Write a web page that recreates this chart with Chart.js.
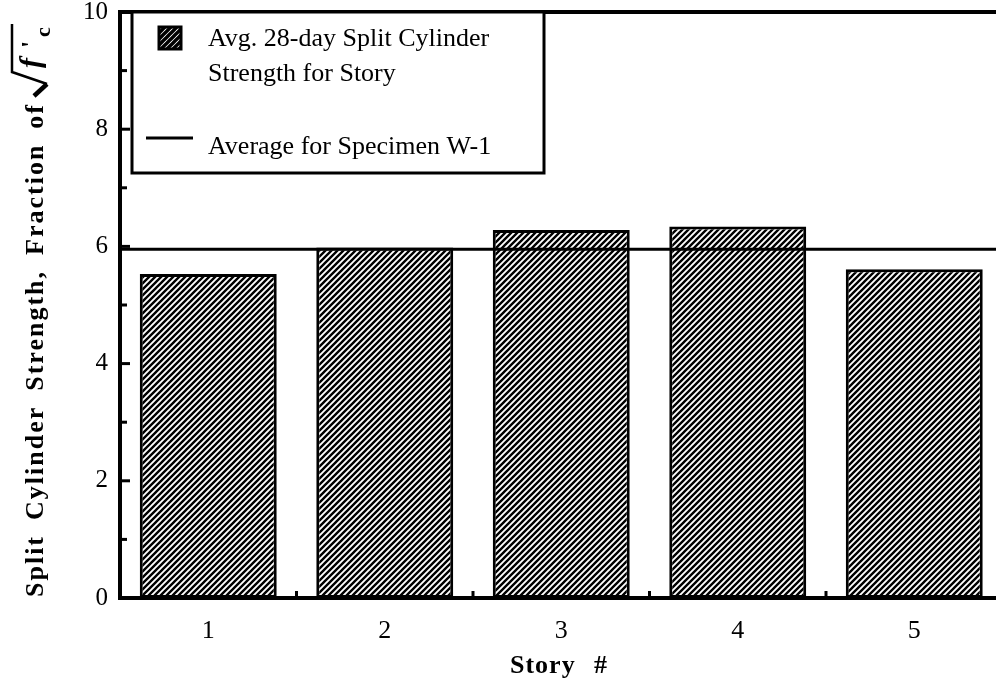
<!DOCTYPE html>
<html>
<head>
<meta charset="utf-8">
<script src="https://cdn.jsdelivr.net/npm/chart.js@4.4.1/dist/chart.umd.min.js"></script>
<style>
  html, body { margin: 0; padding: 0; background: #fff; overflow: hidden; }
  #wrap { position: absolute; left: 0; top: 0; width: 1010px; height: 686px; }
</style>
</head>
<body>
<div id="wrap"><canvas id="chart" width="1010" height="686"></canvas></div>
<script>
// story numbers and avg split cylinder strength (fraction of sqrt f'c)
const stories = ["1", "2", "3", "4", "5"];
const splitStrength = [5.53, 5.98, 6.28, 6.34, 5.61];
const specimenAverage = 5.95;
const yTicks = [0, 2, 4, 6, 8, 10];
const legendLines = ["Avg. 28-day Split Cylinder", "Strength for Story"];
const legendAvgLabel = "Average for Specimen W-1";
const yTitleWords = ["Split", "Cylinder", "Strength,", "Fraction", "of"];

const serif = '"Liberation Serif", "Times New Roman", serif';

const canvas = document.getElementById("chart");
const ctx = canvas.getContext("2d");

function makeHatch(size, width) {
  const tile = document.createElement("canvas");
  tile.width = tile.height = size;
  const g = tile.getContext("2d");
  g.fillStyle = "#fff";
  g.fillRect(0, 0, size, size);
  g.strokeStyle = "#000";
  g.lineWidth = width;
  g.beginPath();
  for (let k = -1; k <= 1; k++) {
    g.moveTo(k * size - 1, size + 1);
    g.lineTo(k * size + size + 1, -1);
  }
  g.stroke();
  return ctx.createPattern(tile, "repeat");
}

const hatch = makeHatch(6, 2.4);
const hatchDense = makeHatch(6, 3.4);

const decor = {
  id: "decor",
  afterDatasetsDraw(chart) {
    const { ctx, chartArea: a, scales: { y } } = chart;
    ctx.save();
    ctx.strokeStyle = "#000";
    ctx.lineWidth = 3;
    const ay = y.getPixelForValue(specimenAverage);
    ctx.beginPath();
    ctx.moveTo(a.left, ay);
    ctx.lineTo(a.right, ay);
    ctx.stroke();
    ctx.restore();
  },
  afterDraw(chart) {
    const { ctx, chartArea: a, scales: { x, y } } = chart;
    ctx.save();
    ctx.strokeStyle = "#000";
    ctx.fillStyle = "#000";

    // top frame line
    ctx.lineWidth = 4;
    ctx.beginPath();
    ctx.moveTo(a.left - 2, a.top);
    ctx.lineTo(a.right, a.top);
    ctx.stroke();

    // inward y ticks (major + minor)
    ctx.lineWidth = 3;
    for (let v = 0; v <= 10; v++) {
      const py = y.getPixelForValue(v);
      const len = yTicks.includes(v) ? 10 : 7;
      ctx.beginPath();
      ctx.moveTo(a.left, py);
      ctx.lineTo(a.left + len, py);
      ctx.stroke();
    }

    // x ticks between categories
    for (let i = 0; i < stories.length - 1; i++) {
      const px = (x.getPixelForValue(i) + x.getPixelForValue(i + 1)) / 2;
      ctx.beginPath();
      ctx.moveTo(px, a.bottom);
      ctx.lineTo(px, a.bottom - 7);
      ctx.stroke();
    }

    // legend box
    ctx.fillStyle = "#fff";
    ctx.fillRect(132, a.top, 412, 161);
    ctx.lineWidth = 3;
    ctx.strokeRect(132, a.top, 412, 161);
    ctx.fillStyle = hatchDense;
    ctx.fillRect(159, 27, 22, 22);
    ctx.lineWidth = 3;
    ctx.strokeRect(159, 27, 22, 22);
    ctx.beginPath();
    ctx.moveTo(146, 138);
    ctx.lineTo(193, 138);
    ctx.stroke();
    ctx.fillStyle = "#000";
    ctx.font = `26px ${serif}`;
    ctx.textBaseline = "alphabetic";
    ctx.textAlign = "left";
    ctx.fillText(legendLines[0], 208, 46);
    ctx.fillText(legendLines[1], 208, 81);
    ctx.fillText(legendAvgLabel, 208, 154);

    // y axis title
    ctx.save();
    ctx.translate(43, 597);
    ctx.rotate(-Math.PI / 2);
    ctx.font = `bold 26px ${serif}`;
    ctx.letterSpacing = "2px";
    let u = 0;
    for (const w of yTitleWords) {
      ctx.fillText(w, u, 0);
      u += ctx.measureText(w).width + 15;
    }
    u -= 10;
    ctx.letterSpacing = "0px";
    // radical sign
    ctx.lineWidth = 4.5;
    ctx.beginPath();
    ctx.moveTo(u + 2, -9);
    ctx.lineTo(u + 14, 4);
    ctx.stroke();
    ctx.lineWidth = 2.5;
    ctx.beginPath();
    ctx.moveTo(u + 14, 4);
    ctx.lineTo(u + 26, -31);
    ctx.lineTo(u + 74, -31);
    ctx.stroke();
    ctx.font = `italic bold 30px ${serif}`;
    ctx.fillText("f", u + 30, -3);
    ctx.font = `bold 26px ${serif}`;
    ctx.fillText("'", u + 50, -4);
    ctx.font = `bold 22px ${serif}`;
    ctx.fillText("c", u + 61, 7);
    ctx.restore();

    // x axis title
    ctx.font = `bold 26px ${serif}`;
    ctx.letterSpacing = "1px";
    ctx.textBaseline = "alphabetic";
    ctx.fillText("Story", 510, 673);
    ctx.fillText("#", 594, 673);
    ctx.restore();
  }
};

new Chart(ctx, {
  type: "bar",
  data: {
    labels: stories,
    datasets: [
      {
        data: splitStrength,
        backgroundColor: hatch,
        borderColor: "#000",
        borderWidth: 3,
        borderSkipped: false,
        barPercentage: 0.776,
        categoryPercentage: 1,
      },
    ],
  },
  options: {
    responsive: false,
    animation: false,
    devicePixelRatio: 1,
    layout: { padding: { top: 12, right: 7.5, left: 0, bottom: 0 } },
    plugins: {
      legend: { display: false },
      tooltip: { enabled: false },
    },
    scales: {
      x: {
        grid: { display: false, drawTicks: false },
        border: { display: true, color: "#000", width: 4 },
        ticks: {
          color: "#000",
          font: { family: serif, size: 26 },
          padding: 18,
        },
        afterFit(scale) {
          scale.height = 88;
          scale.paddingLeft = 0;
          scale.paddingRight = 0;
        },
      },
      y: {
        min: 0,
        max: 10,
        afterBuildTicks(scale) {
          scale.ticks = yTicks.map((v) => ({ value: v }));
        },
        grid: { display: false, drawTicks: false },
        border: { display: true, color: "#000", width: 4 },
        ticks: {
          color: "#000",
          font: { family: serif, size: 25 },
          padding: 12,
        },
        afterFit(scale) {
          scale.width = 120;
          scale.paddingTop = 0;
          scale.paddingBottom = 0;
        },
      },
    },
  },
  plugins: [decor],
});
</script>
</body>
</html>
